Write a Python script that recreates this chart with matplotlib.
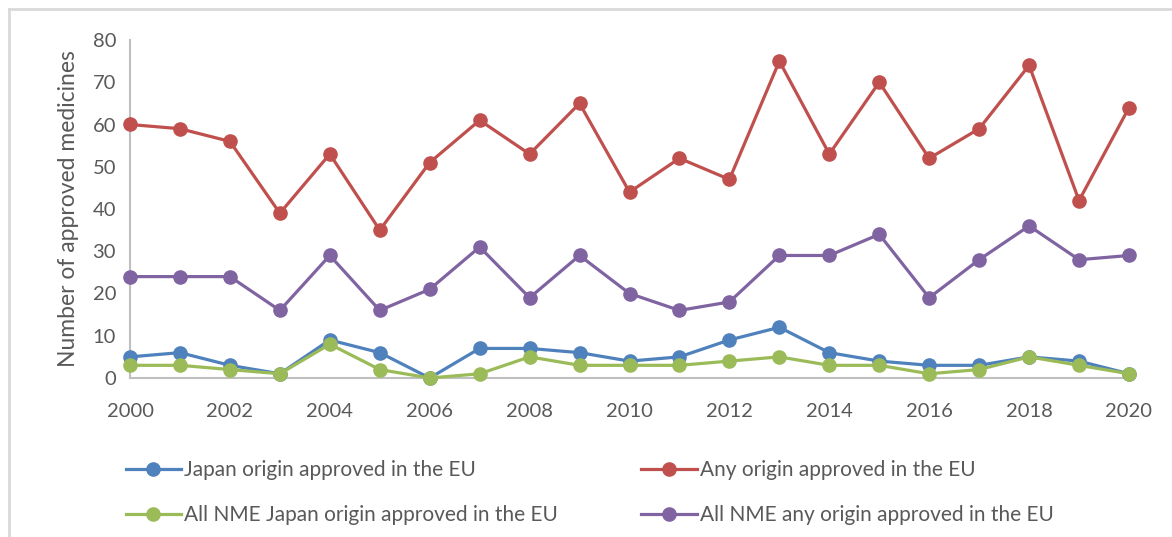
"""Medicines approved in the EU per year, Japanese origin vs any origin, 2000-2020."""
import matplotlib

matplotlib.use("Agg")
import matplotlib.pyplot as plt
from matplotlib.lines import Line2D

plt.rcParams["font.family"] = ["Lato", "DejaVu Sans"]

YEARS = list(range(2000, 2021))
JAPAN_EU = [5, 6, 3, 1, 9, 6, 0, 7, 7, 6, 4, 5, 9, 12, 6, 4, 3, 3, 5, 4, 1]
ANY_EU = [60, 59, 56, 39, 53, 35, 51, 61, 53, 65, 44, 52, 47, 75, 53, 70, 52, 59, 74, 42, 64]
NME_JAPAN_EU = [3, 3, 2, 1, 8, 2, 0, 1, 5, 3, 3, 3, 4, 5, 3, 3, 1, 2, 5, 3, 1]
NME_ANY_EU = [24, 24, 24, 16, 29, 16, 21, 31, 19, 29, 20, 16, 18, 29, 29, 34, 19, 28, 36, 28, 29]

LABELS = [
    "Japan origin approved in the EU",
    "Any origin approved in the EU",
    "All NME Japan origin approved in the EU",
    "All NME any origin approved in the EU",
]
COLORS = ["#4F81BD", "#C0504D", "#9BBB59", "#8064A2"]
TEXT = "#595959"
AXIS = "#BFBFBF"

fig = plt.figure(figsize=(11.72, 5.37), dpi=100)
ax = fig.add_axes([130 / 1172, 1 - 378 / 537, (1129 - 130) / 1172, (378 - 40) / 537])

series = [JAPAN_EU, ANY_EU, NME_JAPAN_EU, NME_ANY_EU]
# draw the big series first so the small ones sit on top near zero
for i in (1, 3, 0, 2):
    ax.plot(YEARS, series[i], color=COLORS[i], lw=2.3, marker="o", ms=9.5,
            label=LABELS[i], clip_on=False, zorder=3 + i)

ax.set_xlim(2000, 2020)
ax.set_ylim(0, 80)
ax.set_xticks(range(2000, 2021, 2))
ax.set_yticks(range(0, 81, 10))
ax.tick_params(length=0, labelsize=14.5, colors=TEXT)
ax.tick_params(axis="y", pad=10)
ax.tick_params(axis="x", pad=18)
for s in ("top", "right"):
    ax.spines[s].set_visible(False)
for s in ("left", "bottom"):
    ax.spines[s].set_color(AXIS)
    ax.spines[s].set_linewidth(1.5)
ax.set_ylabel("Number of approved medicines", fontsize=16.5, color=TEXT, labelpad=10)

# legend: column-major fill, so order is blue, green | red, purple
leg_handles = [Line2D([], [], color=COLORS[i], lw=2.3, marker="o", ms=9.5) for i in (0, 2, 1, 3)]
fig.legend(leg_handles, [LABELS[i] for i in (0, 2, 1, 3)], ncol=2, frameon=False,
           loc="center left", bbox_to_anchor=(107 / 1172, 0.083), fontsize=15,
           labelcolor=TEXT, handlelength=2.65, handletextpad=0.15, columnspacing=4.0,
           labelspacing=1.2)

# light frame along the top and left edges
fig.add_artist(Line2D([9 / 1172, 1], [1 - 9 / 537, 1 - 9 / 537], color="#D9D9D9", lw=2,
                      transform=fig.transFigure))
fig.add_artist(Line2D([9 / 1172, 9 / 1172], [0, 1 - 9 / 537], color="#D9D9D9", lw=2,
                      transform=fig.transFigure))

fig.savefig("out.png", dpi=100)
